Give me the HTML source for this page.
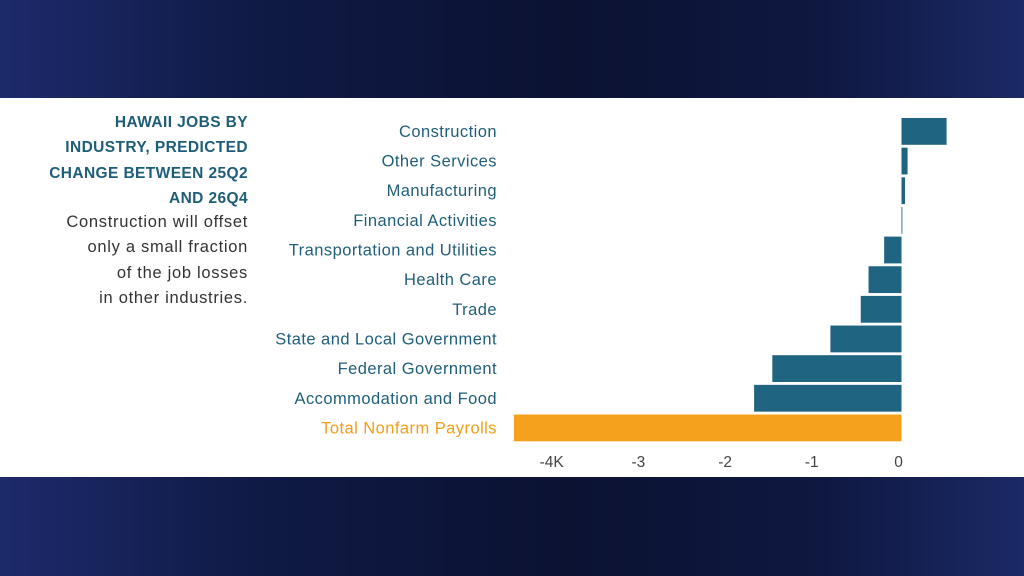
<!DOCTYPE html>
<html><head><meta charset="utf-8"><style>
html,body{margin:0;padding:0}
body{width:1024px;height:576px;overflow:hidden;position:relative;font-family:"Liberation Sans",sans-serif;
background:linear-gradient(90deg,#1d2a6b 0%,#0f1a45 25%,#0b1232 55%,#0e1840 80%,#1b2966 100%);}
#band{position:absolute;left:0;top:98px;width:1024px;height:379px;background:#fff}
#title{position:absolute;right:776px;top:110px;width:260px;text-align:right;font-weight:bold;font-size:15.5px;letter-spacing:0.4px;line-height:25.3px;color:#1d5d78}
#sub{position:absolute;right:776px;top:210px;width:260px;text-align:right;font-size:16.5px;letter-spacing:0.7px;line-height:25.3px;color:#333}
svg{position:absolute;left:0;top:0}
</style></head><body>
<div id="band"></div>
<div id="title">HAWAII JOBS BY<br>INDUSTRY, PREDICTED<br>CHANGE BETWEEN 25Q2<br>AND 26Q4</div>
<div id="sub">Construction will offset<br>only a small fraction<br>of the job losses<br>in other industries.</div>
<svg id="chart" width="1024" height="576"></svg>
<script>
const categories=["Construction","Other Services","Manufacturing","Financial Activities","Transportation and Utilities","Health Care","Trade","State and Local Government","Federal Government","Accommodation and Food","Total Nonfarm Payrolls"];
const values=[0.52,0.07,0.04,0.01,-0.2,-0.38,-0.47,-0.82,-1.49,-1.7,-4.47];
const tickValues=[-4,-3,-2,-1,0];
const tickLabels=["-4K","-3","-2","-1","0"];
const NS="http://www.w3.org/2000/svg";
const svg=document.getElementById('chart');
const x0=901.5,unit=86.7;
function xs(v){return x0+v*unit;}
function ys(i){return 118+i*29.65;}
const bh=26.8;
categories.forEach((c,i)=>{
  const v=values[i];
  const total=i===categories.length-1;
  const r=document.createElementNS(NS,'rect');
  
  
  r.setAttribute('x',Math.min(xs(0),xs(v)));
  r.setAttribute('y',ys(i));
  r.setAttribute('width',Math.abs(xs(v)-xs(0)));
  r.setAttribute('height',bh);
  r.setAttribute('fill',total?'#f5a11e':'#1f6480');
  svg.appendChild(r);
  const t=document.createElementNS(NS,'text');
  
  
  t.setAttribute('x',497);
  t.setAttribute('y',ys(i)+bh/2+5.5);
  t.setAttribute('text-anchor','end');
  t.setAttribute('font-size','16.5');
  t.setAttribute('letter-spacing','0.45');
  t.setAttribute('fill',total?'#f29d16':'#1f5f7a');
  t.textContent=c;
  svg.appendChild(t);
});
tickValues.forEach((v,i)=>{
  const t=document.createElementNS(NS,'text');
  
  
  t.setAttribute('x',xs(v)-3);
  t.setAttribute('y',467);
  t.setAttribute('text-anchor','middle');
  t.setAttribute('font-size','15.5');
  t.setAttribute('fill','#444');
  t.textContent=tickLabels[i];
  svg.appendChild(t);
});
</script>
</body></html>
